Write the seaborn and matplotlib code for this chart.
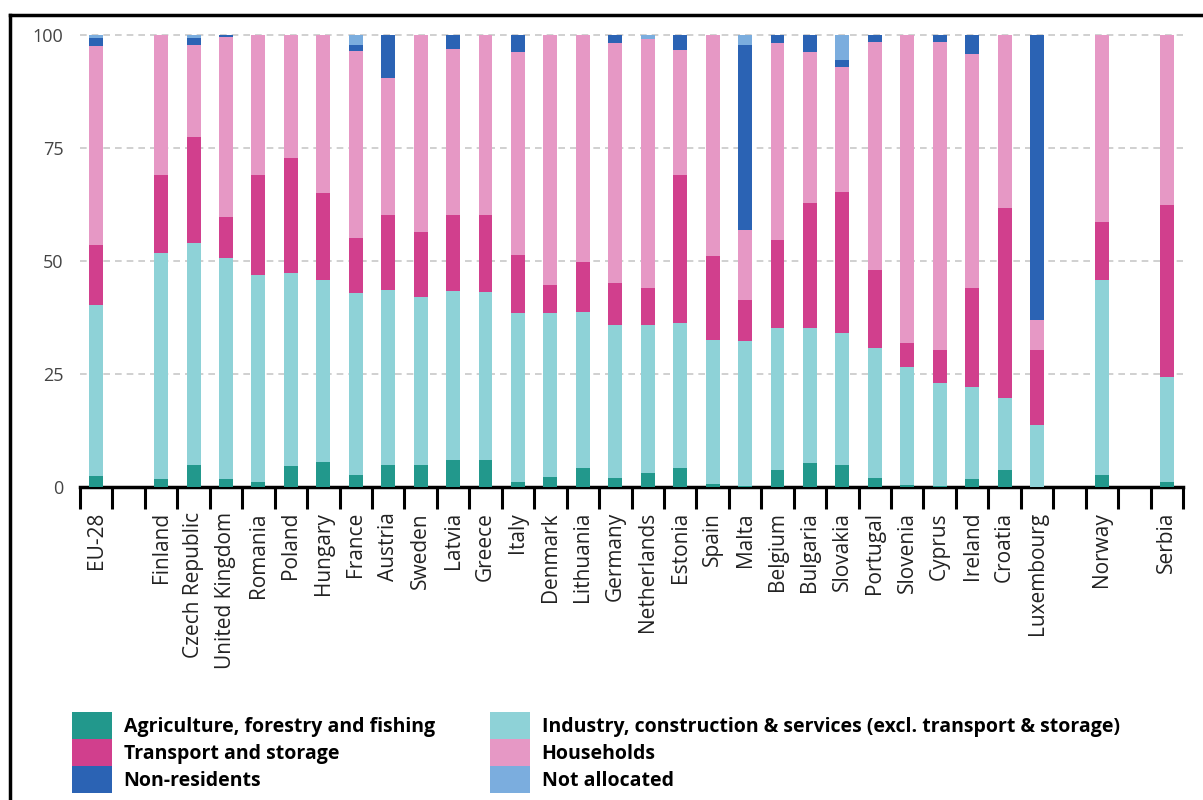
import matplotlib.pyplot as plt
import seaborn as sns
import numpy as np
import pandas as pd
from matplotlib.patches import Patch
from matplotlib.lines import Line2D

countries = ["EU-28", "Finland", "Czech Republic", "United Kingdom", "Romania", "Poland",
             "Hungary", "France", "Austria", "Sweden", "Latvia", "Greece", "Italy", "Denmark",
             "Lithuania", "Germany", "Netherlands", "Estonia", "Spain", "Malta", "Belgium",
             "Bulgaria", "Slovakia", "Portugal", "Slovenia", "Cyprus", "Ireland", "Croatia",
             "Luxembourg", "Norway", "Serbia"]

agriculture = [2.5, 1.7, 4.9, 1.7, 1.2, 4.6, 5.6, 2.6, 4.9, 4.9, 6.0, 6.0, 1.2, 2.3, 4.1, 1.9,
               3.2, 4.1, 0.7, 0.3, 3.8, 5.4, 4.9, 1.9, 0.5, 0.3, 1.7, 3.8, 0.0, 2.6, 1.2]
industry = [37.8, 50.0, 49.0, 48.9, 45.7, 42.7, 40.2, 40.3, 38.7, 37.2, 37.4, 37.2, 37.2, 36.1,
            34.7, 33.9, 32.6, 32.1, 31.8, 31.9, 31.3, 29.7, 29.1, 28.8, 26.1, 22.6, 20.5, 15.8,
            13.7, 43.2, 23.2]
transport = [13.3, 17.3, 23.6, 9.2, 22.1, 25.4, 19.2, 12.1, 16.6, 14.4, 16.8, 17.0, 12.9, 6.3,
             11.0, 9.3, 8.2, 32.8, 18.5, 9.2, 19.5, 27.7, 31.3, 17.3, 5.2, 7.4, 21.8, 42.1,
             16.6, 12.9, 38.0]
households = [44.0, 31.0, 20.3, 39.8, 31.0, 27.3, 35.0, 41.5, 30.2, 43.5, 36.8, 39.8, 45.0, 55.3,
              50.2, 53.1, 55.2, 27.7, 49.0, 15.5, 43.6, 33.5, 27.7, 50.5, 68.2, 68.2, 51.9, 38.3,
              6.6, 41.3, 37.6]
non_residents = [1.8, 0, 1.5, 0.4, 0, 0, 0, 1.2, 9.6, 0, 3.0, 0, 3.7, 0, 0, 1.8, 0, 3.3, 0,
                 40.9, 1.8, 3.7, 1.5, 1.5, 0, 1.5, 4.1, 0, 63.1, 0, 0]
not_allocated = [0.6, 0, 0.7, 0, 0, 0, 0, 2.3, 0, 0, 0, 0, 0, 0, 0, 0, 0.8, 0, 0, 2.2, 0, 0,
                 5.5, 0, 0, 0, 0, 0, 0, 0, 0]

series_names = ["Agriculture, forestry and fishing", "Transport and storage", "Non-residents",
                "Industry, construction & services (excl. transport & storage)", "Households",
                "Not allocated"]

# stacking order bottom -> top
stack = [
    ("Agriculture, forestry and fishing", agriculture, "#22988c"),
    ("Industry, construction & services (excl. transport & storage)", industry, "#8ed2d7"),
    ("Transport and storage", transport, "#d13f8d"),
    ("Households", households, "#e698c5"),
    ("Non-residents", non_residents, "#2b63b4"),
    ("Not allocated", not_allocated, "#7badde"),
]
colors = {name: c for name, _, c in stack}

# slot order with empty gaps
order = ["EU-28", " "] + countries[1:29] + ["  ", "Norway", "   ", "Serbia"]

df = pd.DataFrame({"country": countries})
running = np.zeros(len(countries))
for name, vals, _ in stack:
    running = running + np.array(vals)
    df[name] = running

fig = plt.figure(figsize=(12.03, 8), dpi=100)
ax = fig.add_axes([80 / 1203, 313 / 800, 1103 / 1203, 452 * 1.02 / 800])

# draw tallest cumulative first so lower layers sit on top
for name, _, c in reversed(stack):
    sns.barplot(data=df, x="country", y=name, order=order, color=c, saturation=1,
                width=0.43, errorbar=None, linewidth=0, ax=ax, zorder=3)

ax.set_xlim(-0.5, len(order) - 0.5)
ax.set_ylim(0, 102)
ax.set_yticks([0, 25, 50, 75, 100])
ax.set_yticklabels(["0", "25", "50", "75", "100"], fontsize=13, color="#444444",
                   family="Open Sans")
ax.yaxis.grid(True, linestyle=(0, (4, 3)), color="#c8c8c8", linewidth=1.2, zorder=0)
ax.set_axisbelow(True)
ax.tick_params(axis="y", length=0, pad=12)

ax.set_xticks(range(len(order)))
ax.set_xticklabels([o.strip() for o in order], rotation=90, fontsize=15,
                   family="Open Sans", color="#222222")
ax.tick_params(axis="x", which="major", length=0, pad=18)
ax.set_xticks(np.arange(-0.5, len(order)), minor=True)
ax.tick_params(axis="x", which="minor", length=16, width=2.2, color="black")
ax.set_xlabel("")
ax.set_ylabel("")

for s in ["top", "right", "left"]:
    ax.spines[s].set_visible(False)
ax.spines["bottom"].set_linewidth(2.5)
ax.spines["bottom"].set_color("black")

# legend in two separate columns
fs = 14
for names, x0 in [(series_names[:3], 72), (series_names[3:], 490)]:
    handles = [Patch(facecolor=colors[n], edgecolor="none", label=n) for n in names]
    fig.legend(handles=handles, loc="upper left", bbox_to_anchor=(x0 / 1203, 1 - 712 / 800),
               frameon=False, borderpad=0, borderaxespad=0, labelspacing=0,
               handlelength=2.05, handleheight=1.75, handletextpad=0.6,
               prop={"family": "Open Sans", "weight": "bold", "size": fs})

# outer frame lines
fig.add_artist(Line2D([10 / 1203, 10 / 1203], [0, 1 - 15 / 800], transform=fig.transFigure,
                      color="black", linewidth=2.5))
fig.add_artist(Line2D([10 / 1203, 1], [1 - 15 / 800, 1 - 15 / 800], transform=fig.transFigure,
                      color="black", linewidth=2.5))

plt.savefig("out.png", dpi=100)
